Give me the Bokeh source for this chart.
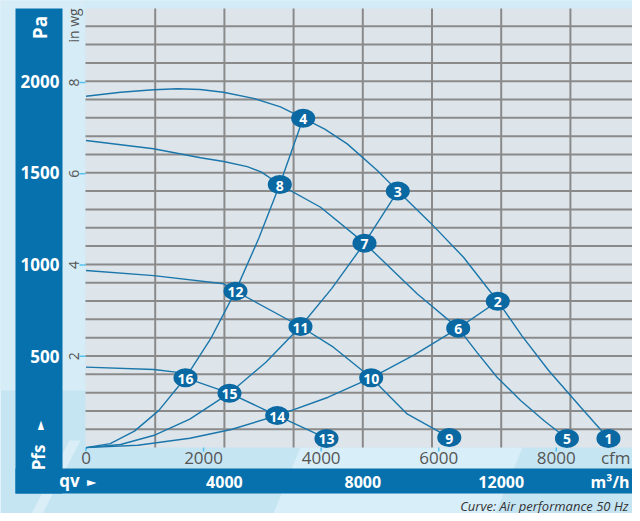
import math
from bokeh.plotting import figure
from bokeh.models import Range1d
from bokeh.core.properties import value
from bokeh.embed import file_html
from bokeh.resources import INLINE

# ---------------- data ----------------
# fan curves: airflow qv [m3/h], static pressure Pfs [Pa]
fan1_q = [0, 1000, 1950, 2650, 3300, 3970, 4840, 5620, 6277, 6900, 7550, 8420, 9012, 9950, 10910, 11902, 12600, 13370, 14300, 15100]
fan1_p = [1918, 1940, 1953, 1959, 1955, 1940, 1906, 1860, 1798, 1738, 1658, 1513, 1400, 1228, 1039, 799, 610, 421, 220, 50]
fan2_q = [0, 1950, 3310, 3980, 4660, 5060, 5601, 6780, 8049, 9570, 10757, 11300, 11880, 12560, 13250, 13900]
fan2_p = [1676, 1631, 1582, 1562, 1534, 1505, 1436, 1312, 1116, 840, 652, 520, 384, 257, 145, 50]
fan3_q = [0, 1960, 3980, 4321, 6199, 7150, 8243, 8800, 9280, 10150, 10500]
fan3_p = [967, 939, 894, 854, 661, 548, 381, 275, 184, 93, 55]
fan4_q = [0, 1960, 2590, 2876, 4147, 5526, 6950]
fan4_p = [439, 426, 412, 381, 297, 175, 50]

# system curves
sys1_q = [0, 700, 1400, 2100, 2876, 3600, 4321, 5000, 5601, 6277]
sys1_p = [0, 22, 90, 202, 381, 593, 854, 1145, 1436, 1798]
sys2_q = [0, 1000, 2000, 3000, 4147, 5200, 6199, 7100, 8049, 9012]
sys2_p = [0, 17, 69, 155, 297, 466, 661, 868, 1116, 1400]
sys3_q = [0, 1500, 3000, 4200, 5526, 7000, 8243, 9500, 10757, 11902]
sys3_p = [0, 13, 51, 99, 175, 275, 381, 508, 652, 799]

# operating points
point_labels = ["1", "2", "3", "4", "5", "6", "7", "8",
                "9", "10", "11", "12", "13", "14", "15", "16"]
point_q = [15100, 11902, 9012, 6277, 13900, 10757, 8049, 5601,
           10500, 8243, 6199, 4321, 6950, 5526, 4147, 2876]
point_p = [50, 799, 1400, 1798, 50, 652, 1116, 1436,
           55, 381, 661, 854, 50, 175, 297, 381]

# axes
pa_ticks = [500, 1000, 1500, 2000]
inwg_ticks = [2, 4, 6, 8]
cfm_ticks = [0, 2000, 4000, 6000, 8000]
m3h_ticks = [4000, 8000, 12000]
grid_q = [2000, 4000, 6000, 8000, 10000, 12000, 14000]
grid_p = [100, 200, 300, 400, 500, 600, 700, 800, 900, 1000, 1100, 1200,
          1300, 1400, 1500, 1600, 1700, 1800, 1900, 2000, 2100, 2200, 2300]

PA_PER_INWG = 249.089
M3H_PER_CFM = 1.69901

# ---------------- layout helpers ----------------
W, H = 632, 513
X0, SX = 85.5, 0.0346     # canvas px of qv=0, px per m3/h
Y0, SY = 447.1, 0.1832    # canvas px of Pfs=0, px per Pa


def dx(xs):
    return (xs - X0) / SX


def dy(ys):
    return (Y0 - ys) / SY


BG = "#c6e5f3"
PLOT_BG = "#dde5ea"
GRID = "#8a8a8a"
BLUE = "#0771ad"
CURVE = "#1a76ab"
MARK = "#0a68a2"
GREY = "#555555"
TICK = "#55c3ee"
FONT = value("Open Sans")

p = figure(width=W, height=H,
           x_range=Range1d(dx(0), dx(W)),
           y_range=Range1d(dy(H), dy(0)),
           x_axis_type=None, y_axis_type=None,
           output_backend="svg", toolbar_location=None,
           min_border=0, outline_line_color=None,
           background_fill_color=BG, border_fill_color=BG)

# background shading
p.quad(left=dx(-5), right=dx(85), top=dy(-5), bottom=dy(390),
       fill_color="#d6ecf6", line_color=None)
p.quad(left=dx(85), right=dx(645), top=dy(-5), bottom=dy(8),
       fill_color="#d3ebf6", line_color=None)
p.patch([dx(300), dx(522), dx(490), dx(268)], [dy(447), dy(447), dy(525), dy(525)],
        fill_color="#d8eef8", line_color=None)
p.patch([dx(25), dx(36), dx(80), dx(69)], [dy(525), dy(525), dy(440), dy(440)],
        fill_color="#ffffff", fill_alpha=0.35, line_color=None)

# plot area
p.quad(left=dx(85), right=dx(645), top=dy(8), bottom=dy(447),
       fill_color=PLOT_BG, line_color=None)

# grid
p.segment(x0=grid_q, x1=grid_q, y0=[0] * len(grid_q), y1=[dy(8)] * len(grid_q),
          line_color=GRID, line_width=2)
p.segment(x0=[dx(85)] * len(grid_p), x1=[dx(645)] * len(grid_p), y0=grid_p, y1=grid_p,
          line_color=GRID, line_width=2)

# blue bars
p.quad(left=dx(15), right=dx(62), top=dy(8), bottom=dy(493), fill_color=BLUE, line_color=None)
p.quad(left=dx(15), right=dx(638), top=dy(468), bottom=dy(493), fill_color=BLUE, line_color=None)

# small light-blue ticks
inwg_pa = [v * PA_PER_INWG for v in inwg_ticks]
p.segment(x0=[dx(79)] * 4, x1=[dx(85)] * 4, y0=inwg_pa, y1=inwg_pa, line_color=TICK, line_width=1.5)
cfm_q = [c * M3H_PER_CFM for c in cfm_ticks]
p.segment(x0=cfm_q, x1=cfm_q, y0=[dy(447)] * 5, y1=[dy(451)] * 5, line_color=TICK, line_width=1.5)

# curves
for q, pr in [(sys1_q, sys1_p), (sys2_q, sys2_p), (sys3_q, sys3_p),
              (fan1_q, fan1_p), (fan2_q, fan2_p), (fan3_q, fan3_p), (fan4_q, fan4_p)]:
    p.line(q, pr, line_color=CURVE, line_width=1.4)

# operating points
p.ellipse(x=point_q, y=point_p, width=24, height=19, width_units="screen",
          height_units="screen", fill_color=MARK, line_color=None)
p.text(x=point_q, y=point_p, text=point_labels, text_align="center", text_baseline="middle",
       text_color="white", text_font_size="14px", text_font_style="bold", text_font=FONT,
       y_offset=1)

# Pa labels
p.text(x=[dx(59)] * 4, y=pa_ticks, text=[str(v) for v in pa_ticks], text_align="right",
       text_baseline="middle", text_color="white", text_font_size="17px",
       text_font_style="bold", text_font=FONT)
p.text(x=[dx(39)], y=[dy(27)], text=["Pa"], angle=math.pi / 2, text_align="center",
       text_baseline="middle", text_color="white", text_font_size="19px",
       text_font_style="bold", text_font=FONT)
p.text(x=[dx(38)], y=[dy(457)], text=["Pfs"], angle=math.pi / 2, text_align="center",
       text_baseline="middle", text_color="white", text_font_size="17px",
       text_font_style="bold", text_font=FONT)
p.text(x=[dx(39)], y=[dy(425)], text=["►"], angle=math.pi / 2, text_align="center",
       text_baseline="middle", text_color="white", text_font_size="12px",
       text_font=value("DejaVu Sans"))

# in wg labels
p.text(x=[dx(73)], y=[dy(25)], text=["in wg"], angle=math.pi / 2, text_align="center",
       text_baseline="middle", text_color=GREY, text_font_size="14px", text_font=FONT)
p.text(x=[dx(73)] * 4, y=inwg_pa, text=[str(v) for v in inwg_ticks], angle=math.pi / 2,
       text_align="center", text_baseline="middle", text_color=GREY,
       text_font_size="14px", text_font=FONT)

# cfm labels
p.text(x=cfm_q, y=[dy(457)] * 5, text=[str(c) for c in cfm_ticks], text_align="center",
       text_baseline="middle", text_color=GREY, text_font_size="17px", text_font=FONT)
p.text(x=[dx(630)], y=[dy(457)], text=["cfm"], text_align="right", text_baseline="middle",
       text_color=GREY, text_font_size="17px", text_font=FONT)

# m3/h labels
p.text(x=m3h_ticks, y=[dy(481)] * 3, text=[str(v) for v in m3h_ticks], text_align="center",
       text_baseline="middle", text_color="white", text_font_size="16px",
       text_font_style="bold", text_font=FONT)
p.text(x=[dx(629)], y=[dy(481)], text=["m³/h"], text_align="right", text_baseline="middle",
       text_color="white", text_font_size="16px", text_font_style="bold", text_font=FONT)
p.text(x=[dx(69)], y=[dy(480)], text=["qv"], text_align="center", text_baseline="middle",
       text_color="white", text_font_size="17px", text_font_style="bold", text_font=FONT)
p.text(x=[dx(91)], y=[dy(481)], text=["►"], text_align="center", text_baseline="middle",
       text_color="white", text_font_size="12px", text_font=value("DejaVu Sans"))

# caption
p.text(x=[dx(628)], y=[dy(505)], text=["Curve: Air performance 50 Hz"], text_align="right",
       text_baseline="middle", text_color="#333333", text_font_size="13px",
       text_font_style="italic", text_font=FONT)

open("out.html", "w").write(file_html(p, INLINE))
